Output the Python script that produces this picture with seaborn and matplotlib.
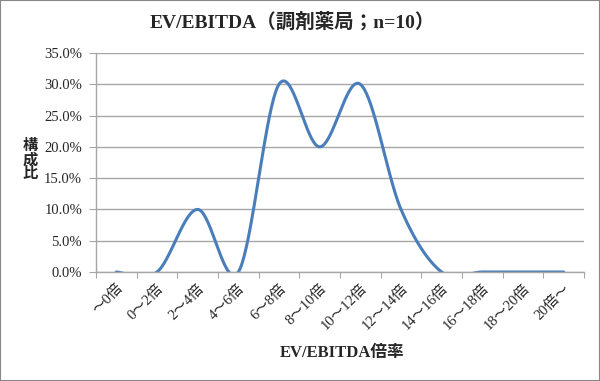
import numpy as np
import pandas as pd
import matplotlib
matplotlib.use("Agg")
import matplotlib.pyplot as plt
import seaborn as sns
from matplotlib.ticker import FuncFormatter, FixedLocator
from matplotlib.patches import Rectangle

categories = ["～0倍", "0～2倍", "2～4倍", "4～6倍", "6～8倍", "8～10倍",
              "10～12倍", "12～14倍", "14～16倍", "16～18倍", "18～20倍", "20倍～"]
shares = [0.0, 0.0, 0.10, 0.0, 0.30, 0.20, 0.30, 0.10, 0.0, 0.0, 0.0, 0.0]
title = "EV/EBITDA（調剤薬局；n=10）"
xlabel = "EV/EBITDA倍率"
ylabel = "構\n成\n比"
yticks = [0.0, 0.05, 0.10, 0.15, 0.20, 0.25, 0.30, 0.35]

sns.set_style("white")
plt.rcParams['font.family'] = ['Liberation Serif', 'Noto Sans CJK JP', 'DejaVu Sans']

# Excel-style smoothed line (Bezier through points)
def smooth(xs, ys, n=40):
    xs = np.asarray(xs, float); ys = np.asarray(ys, float)
    outx, outy = [], []
    m = len(xs)
    for i in range(m - 1):
        p0 = np.array([xs[max(i - 1, 0)], ys[max(i - 1, 0)]])
        p1 = np.array([xs[i], ys[i]])
        p2 = np.array([xs[i + 1], ys[i + 1]])
        p3 = np.array([xs[min(i + 2, m - 1)], ys[min(i + 2, m - 1)]])
        c1 = p1 + (p2 - p0) / 6.0
        c2 = p2 - (p3 - p1) / 6.0
        t = np.linspace(0, 1, n)[:, None]
        pts = ((1 - t) ** 3) * p1 + 3 * ((1 - t) ** 2) * t * c1 + 3 * (1 - t) * t ** 2 * c2 + t ** 3 * p2
        outx.extend(pts[:, 0]); outy.extend(pts[:, 1])
    return np.array(outx), np.array(outy)

pos = np.arange(len(categories))
sx, sy = smooth(pos, shares)
df = pd.DataFrame({"x": sx, "y": sy})

fig = plt.figure(figsize=(6.0, 3.81), dpi=100)
ax = fig.add_axes([96 / 600, 1 - 272 / 381, 488 / 600, 219 / 381])

sns.lineplot(data=df, x="x", y="y", ax=ax, color="#4A7EBB", linewidth=2.2, sort=False, estimator=None)

ax.set_xlim(-0.5, len(categories) - 0.5)
ax.set_ylim(0, 0.35)
ax.set_yticks(yticks)
ax.yaxis.set_major_formatter(FuncFormatter(lambda v, p: f"{v*100:.1f}%"))
for yv in yticks:
    ax.axhline(yv, color="#a6a6a6", linewidth=1.0, zorder=0)

ax.xaxis.set_major_locator(FixedLocator(np.arange(-0.5, len(categories), 1.0)))
ax.xaxis.set_minor_locator(FixedLocator(pos))
ax.set_xticklabels([""] * (len(categories) + 1))
ax.set_xticks(pos, minor=True)
ax.set_xticklabels(categories, minor=True, rotation=45, ha="right", rotation_mode="anchor", fontsize=10.5)
ax.tick_params(axis="x", which="major", length=4, color="#a6a6a6", direction="out", bottom=True)
ax.tick_params(axis="x", which="minor", length=0, pad=7)
ax.tick_params(axis="y", length=5, color="#a6a6a6", direction="out", left=True, labelsize=10.5, pad=5)
ax.set_xlabel("")
ax.set_ylabel("")

for s in ["top", "right"]:
    ax.spines[s].set_visible(False)
for s in ["left", "bottom"]:
    ax.spines[s].set_color("#a6a6a6")
    ax.spines[s].set_linewidth(1.0)

fig.text(0.487, 1 - 22 / 381, title, ha="center", va="center", fontsize=14, fontweight="bold")
fig.text(342 / 600, 1 - 353 / 381, xlabel, ha="center", va="center", fontsize=12, fontweight="bold")
fig.text(30 / 600, 1 - 160 / 381, ylabel, ha="center", va="center", fontsize=11, fontweight="bold", linespacing=0.95)

fig.patches.append(Rectangle((0, 0), 1, 1, transform=fig.transFigure, fill=False,
                             edgecolor="#888888", linewidth=1.5))

fig.savefig("out.png", dpi=100)
